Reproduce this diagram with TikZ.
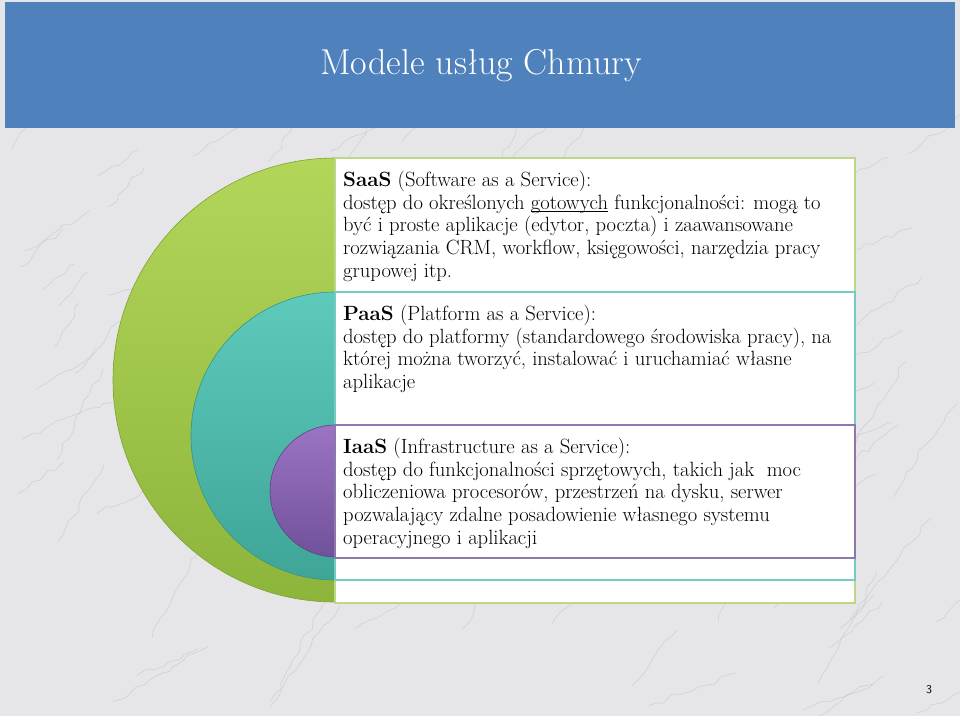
\documentclass[tikz,border=0pt]{standalone}
\usepackage{fontspec}
\usetikzlibrary{decorations.pathmorphing}
\definecolor{bgcol}{HTML}{E6E6E8}
\definecolor{vein}{HTML}{A8A8AE}
\definecolor{barblue}{HTML}{4F81BD}
\definecolor{gTop}{HTML}{B2D65A}
\definecolor{gBot}{HTML}{8DB43B}
\definecolor{gEdge}{HTML}{7FA232}
\definecolor{tTop}{HTML}{5ECABC}
\definecolor{tBot}{HTML}{3EA597}
\definecolor{tEdge}{HTML}{36958A}
\definecolor{pTop}{HTML}{9B74C4}
\definecolor{pBot}{HTML}{71519A}
\definecolor{pEdge}{HTML}{5E4382}
\definecolor{gLine}{HTML}{BCD68A}
\definecolor{tLine}{HTML}{74CBC3}
\definecolor{pLine}{HTML}{8C78AC}
\newcommand{\myul}[1]{\setbox0\hbox{#1}\rlap{\raisebox{-3pt}{\rule{\wd0}{0.8pt}}}\copy0\relax}
\tikzset{
  panel/.style={fill=white, line width=1.1pt},
  veinline/.style={draw=vein, line width=0.6pt, opacity=0.35,
    decorate, decoration={random steps, segment length=9pt, amplitude=3pt}},
  bodytext/.style={anchor=north west, align=left, inner sep=0pt, text=black,
    font=\fontsize{20.6}{22.6}\selectfont},
}
\begin{document}
\begin{tikzpicture}[x=1pt,y=-1pt]
\useasboundingbox (0,0) rectangle (960,716);
\fill[bgcol] (0,0) rectangle (960,716);
% marble veins
\pgfmathsetseed{11}
\foreach \i in {1,...,110}{
  \pgfmathsetmacro{\vx}{rnd*960}
  \pgfmathsetmacro{\vy}{140+rnd*576}
  \pgfmathsetmacro{\vl}{40+rnd*90}
  \pgfmathsetmacro{\va}{-20-rnd*45}
  \draw[veinline] (\vx,\vy) -- ++(\va:\vl);
}
% title bar
\fill[barblue] (5,2) rectangle (955,128);
\node[text=white, font=\fontsize{36}{42}\selectfont] (title) at (481,66) {Modele usług Chmury};
% discs
\shade[top color=gTop, bottom color=gBot, draw=gEdge, line width=0.6pt]
  (335,158) arc[start angle=-90, end angle=-270, radius=222] -- cycle;
\shade[top color=tTop, bottom color=tBot, draw=tEdge, line width=0.6pt]
  (335,292) arc[start angle=-90, end angle=-270, radius=144] -- cycle;
\shade[top color=pTop, bottom color=pBot, draw=pEdge, line width=0.6pt]
  (336,425) arc[start angle=-90, end angle=-270, radius=66] -- cycle;
% panels
\draw[panel, draw=gLine] (335,158) rectangle (855,603);
\draw[panel, draw=tLine] (335,292) rectangle (855,580);
\draw[panel, draw=pLine] (335,425) rectangle (855,558);
% texts
\node[bodytext] (saas) at (343,171) {\textbf{SaaS} (Software as a Service):\\
dostęp do określonych \myul{gotowych} funkcjonalności: mogą to\\
być i proste aplikacje (edytor, poczta) i zaawansowane\\
rozwiązania CRM, workflow, księgowości, narzędzia pracy\\
grupowej itp.};
\node[bodytext] (paas) at (343,305) {\textbf{PaaS} (Platform as a Service):\\
dostęp do platformy (standardowego środowiska pracy), na\\
której można tworzyć, instalować i uruchamiać własne\\
aplikacje};
\node[bodytext] (iaas) at (343,438) {\textbf{IaaS} (Infrastructure as a Service):\\
dostęp do funkcjonalności sprzętowych, takich jak\ \ moc\\
obliczeniowa procesorów, przestrzeń na dysku, serwer\\
pozwalający zdalne posadowienie własnego systemu\\
operacyjnego i aplikacji};
% page number
\node[font=\sffamily\fontsize{12}{14}\selectfont] (pnum) at (929,690) {3};
\end{tikzpicture}
\end{document}
